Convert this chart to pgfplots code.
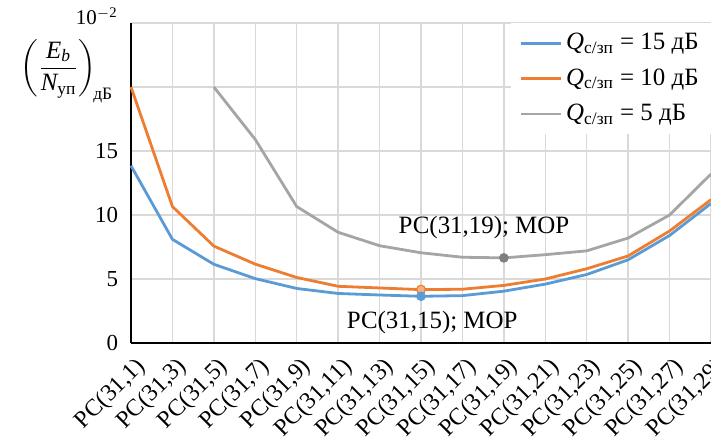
\documentclass[border=0pt]{standalone}
\usepackage{amsmath}
\usepackage{fontspec}
\setmainfont{Liberation Serif}
\usepackage{pgfplots}
\pgfplotsset{compat=1.18}
\definecolor{cblue}{HTML}{5B9BD5}
\definecolor{corange}{HTML}{ED7D31}
\definecolor{corangel}{HTML}{F4B183}
\definecolor{cgray}{HTML}{A5A5A5}
\definecolor{cgrayd}{HTML}{7F7F7F}
\definecolor{cgrid}{HTML}{D9D9D9}
\begin{document}
\begin{tikzpicture}
\useasboundingbox (-65.5bp,-49.5bp) rectangle (290bp,171.5bp);
\begin{axis}[
  scale only axis, width=290bp, height=160bp,
  xmin=0, xmax=14, ymin=0, ymax=25,
  xtick={0,...,14},
  xticklabels={{РС(31,1)},{РС(31,3)},{РС(31,5)},{РС(31,7)},{РС(31,9)},{РС(31,11)},{РС(31,13)},{РС(31,15)},{РС(31,17)},{РС(31,19)},{РС(31,21)},{РС(31,23)},{РС(31,25)},{РС(31,27)},{РС(31,29)}},
  ytick={0,5,10,15,20,25},
  yticklabels={0,5,10,15,,},
  grid=major,
  major grid style={cgrid, line width=0.75bp},
  axis x line=bottom, axis y line=left,
  axis line style={-, black, line width=1bp},
  major tick length=0pt,
  ticklabel style={font=\fontsize{11.5}{13}\selectfont},
  xticklabel style={font=\fontsize{12}{14}\selectfont, rotate=45, anchor=east, yshift=-11bp, xshift=0bp},
  yticklabel style={xshift=-3bp},
  /pgf/number format/assume math mode=true,
  clip=false,
  legend style={at={(rel axis cs:1,1)}, anchor=north east, draw=none, fill=white,
    font=\fontsize{12.5}{15}\selectfont, row sep=4bp, inner xsep=4bp, inner ysep=3bp},
  legend cell align=left,
  legend image code/.code={\draw[#1] (0bp,0bp) -- (20bp,0bp);},
]
\addplot[cblue, line width=1.4bp] coordinates {
 (0,13.85) (1,8.1) (2,6.15) (3,5.03) (4,4.26) (5,3.87) (6,3.75) (7,3.65) (8,3.7) (9,4.05) (10,4.6) (11,5.35) (12,6.5) (13,8.4) (14,10.9)};
\addlegendentry{\textit{Q}$_{\text{с/зп}}$ = 15 дБ}
\addplot[corange, line width=1.4bp] coordinates {
 (0,20) (1,10.66) (2,7.57) (3,6.16) (4,5.12) (5,4.43) (6,4.3) (7,4.17) (8,4.2) (9,4.5) (10,5.0) (11,5.8) (12,6.8) (13,8.75) (14,11.2)};
\addlegendentry{\textit{Q}$_{\text{с/зп}}$ = 10 дБ}
\addplot[cgray, line width=1.4bp] coordinates {
 (2,20) (3,15.9) (4,10.66) (5,8.65) (6,7.6) (7,7.05) (8,6.7) (9,6.65) (10,6.9) (11,7.2) (12,8.2) (13,10.0) (14,13.2)};
\addlegendentry{\textit{Q}$_{\text{с/зп}}$ = 5 дБ}
\addplot[forget plot, only marks, mark=*, mark size=2.2bp, mark options={fill=corangel, draw=corange, line width=0.6bp}] coordinates {(7,4.17)};
\addplot[forget plot, only marks, mark=*, mark size=2.2bp, mark options={fill=cblue, draw=cblue}] coordinates {(7,3.65)};
\addplot[forget plot, only marks, mark=*, mark size=2.2bp, mark options={fill=cgrayd, draw=cgrayd}] coordinates {(9,6.65)};
\node[font=\fontsize{12.5}{15}\selectfont] at (axis cs:8.52,9.0) {РС(31,19); МОР};
\node[font=\fontsize{12.5}{15}\selectfont] at (axis cs:7.27,1.64) {РС(31,15); МОР};
\end{axis}
\node[font=\fontsize{12.5}{15}\selectfont] at (-32bp,136bp) {$\left(\dfrac{\textit{E}_{\text{\itshape b}}}{\textit{N}_{\text{уп}}}\right)_{\!\text{дБ}}$};
\node[font=\fontsize{10.5}{12}\selectfont, anchor=base east, inner sep=0pt] at (-6.5bp,159bp) {10\textsuperscript{$-$2}};
\end{tikzpicture}
\end{document}
